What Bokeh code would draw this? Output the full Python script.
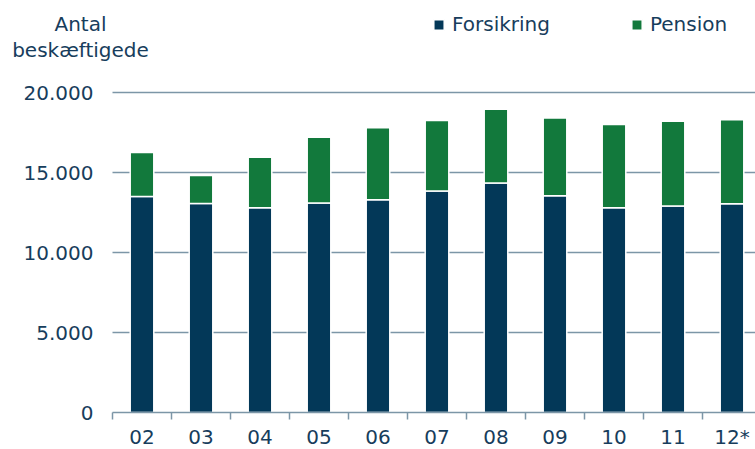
from bokeh.plotting import figure
from bokeh.models import Range1d, FixedTicker, Legend, LegendItem, Label, BoxAnnotation
from bokeh.embed import file_html
from bokeh.resources import INLINE

years = ["02", "03", "04", "05", "06", "07", "08", "09", "10", "11", "12*"]
forsikring = [13500, 13060, 12800, 13100, 13300, 13850, 14350, 13550, 12800, 12900, 13050]
pension = [2750, 1750, 3150, 4100, 4500, 4400, 4600, 4850, 5200, 5300, 5250]
y_ticks = [0, 5000, 10000, 15000, 20000]
y_tick_labels = ["0", "5.000", "10.000", "15.000", "20.000"]

NAVY = "#033858"
GREEN = "#12793c"
TEXT = "#173d5c"
GRID = "#7c96a7"
FONT = "DejaVu Sans"
FS = "20px"

xs = list(range(len(years)))
totals = [f + q for f, q in zip(forsikring, pension)]

PXU = 59.0              # pixels per category
X0 = -0.5 - 112 / PXU   # frame spans the whole canvas; plot area starts at 112px
XEND = -0.5 + 643 / PXU
PXY = 16.0 / 1000       # pixels per unit on y
YEND = 412 / PXY
Y0 = -(449 - 412) / PXY

p = figure(width=755, height=449, output_backend="svg", toolbar_location=None,
           x_range=Range1d(X0, XEND), y_range=Range1d(Y0, YEND),
           min_border_left=0, min_border_right=0, min_border_top=0, min_border_bottom=0,
           outline_line_color=None)

r1 = p.vbar(x=xs, bottom=0, top=forsikring, width=0.4, fill_color=NAVY,
            line_color="white", line_width=1.5)
r2 = p.vbar(x=xs, bottom=forsikring, top=totals, width=0.4, fill_color=GREEN,
            line_color="white", line_width=1.5)

# y axis (placed at the left edge of the plot area)
ya = p.yaxis[0]
ya.fixed_location = -0.5
ya.ticker = FixedTicker(ticks=y_ticks)
ya.major_label_overrides = {t: l for t, l in zip(y_ticks, y_tick_labels)}
ya.axis_line_color = None
ya.major_tick_line_color = None
ya.minor_tick_line_color = None
ya.major_tick_out = 0
ya.major_tick_in = 0
ya.minor_tick_out = 0
ya.minor_tick_in = 0
ya.major_label_standoff = 19
ya.major_label_text_font = FONT
ya.major_label_text_font_size = FS
ya.major_label_text_color = TEXT

# x axis (placed at y = 0)
xa = p.xaxis[0]
xa.fixed_location = 0
xa.bounds = (-0.5, XEND)
xa.ticker = FixedTicker(ticks=xs, minor_ticks=[i - 0.499 for i in xs[:-1]] + [9.5])
xa.major_label_overrides = {i: y for i, y in zip(xs, years)}
xa.axis_line_color = GRID
xa.axis_line_width = 1.5
xa.major_tick_line_color = None
xa.major_tick_out = 0
xa.major_tick_in = 0
xa.minor_tick_line_color = GRID
xa.minor_tick_line_width = 1.5
xa.minor_tick_out = 7
xa.minor_tick_in = 0
xa.major_label_standoff = 5
xa.major_label_text_font = FONT
xa.major_label_text_font_size = FS
xa.major_label_text_color = TEXT

p.xgrid.grid_line_color = None
yg = p.ygrid[0]
yg.ticker = FixedTicker(ticks=y_ticks[1:])
yg.grid_line_color = GRID
yg.grid_line_width = 1.5
if "cross_bounds" in yg.properties():
    yg.cross_bounds = (-0.5, XEND)
else:
    p.add_layout(BoxAnnotation(right=-0.5, fill_color="white", fill_alpha=1,
                               line_color=None, level="underlay"))

# screen positions below are measured from the canvas bottom-left corner
legend = Legend(items=[LegendItem(label="Forsikring", renderers=[r1]),
                       LegendItem(label="Pension", renderers=[r2])],
                location=(432, 413), orientation="horizontal",
                glyph_width=13, glyph_height=13, label_standoff=7, spacing=80,
                padding=0, margin=0, border_line_color=None, background_fill_alpha=0,
                label_text_font=FONT, label_text_font_size=FS, label_text_color=TEXT,
                label_height=20)
p.add_layout(legend, "center")

for txt, yv in [("Antal", 426), ("beskæftigede", 400)]:
    p.add_layout(Label(x=80, y=yv, x_units="screen", y_units="screen", text=txt,
                       text_align="center", text_baseline="middle",
                       text_font=FONT, text_font_size=FS, text_color=TEXT))

open("out.html", "w").write(file_html(p, INLINE))
